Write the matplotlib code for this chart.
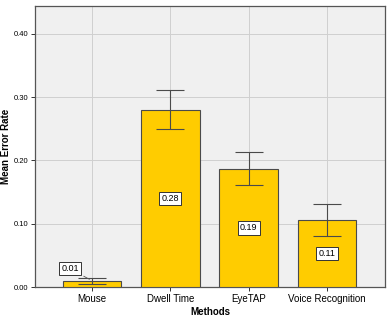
import numpy as np
import matplotlib.pyplot as plt

# ---------- DATA ----------
methods = ["Mouse", "Dwell Time", "EyeTAP", "Voice Recognition"]
mean_err = [0.01, 0.28, 0.187, 0.106]
err_low = [0.005, 0.249, 0.161, 0.081]
err_high = [0.015, 0.311, 0.213, 0.131]
bar_labels = ["0.01", "0.28", "0.19", "0.11"]
yticks = [0.0, 0.1, 0.2, 0.3, 0.4]
# --------------------------

plt.rcParams['font.family'] = ['Liberation Sans', 'DejaVu Sans']

fig = plt.figure(figsize=(3.9, 3.19), dpi=100)
ax = fig.add_axes([35 / 390, 1 - 287 / 319, 350 / 390, 281 / 319])
ax.set_facecolor("#f0f0f0")

x = np.arange(len(methods))
mean_err = np.array(mean_err)
yerr = np.array([mean_err - np.array(err_low), np.array(err_high) - mean_err])

ax.bar(x, mean_err, width=0.75, color="#ffcc00", edgecolor="#4a4a4a", linewidth=0.8, zorder=3)
ax.errorbar(x, mean_err, yerr=yerr, fmt="none", ecolor="#4a4a4a", elinewidth=0.8,
            capsize=10, capthick=0.8, zorder=4)

box = dict(boxstyle="square,pad=0.25", fc="white", ec="#333333", lw=0.7)
for i, (v, lab) in enumerate(zip(mean_err, bar_labels)):
    if i == 0:
        ax.annotate(lab, xy=(x[i], v), xytext=(x[i] - 0.28, 0.029),
                    ha="center", va="center", fontsize=6.5, bbox=box, zorder=5,
                    arrowprops=dict(arrowstyle="-", color="#555555", lw=0.6))
    else:
        ax.text(x[i], v / 2, lab, ha="center", va="center", fontsize=6.5, bbox=box, zorder=5)

ax.set_xlim(-0.726, 3.74)
ax.set_ylim(0, 0.444)
ax.set_xticks(x)
ax.set_xticklabels(methods, fontsize=7)
ax.set_yticks(yticks)
ax.set_yticklabels([f"{t:.2f}" for t in yticks], fontsize=5.5)
ax.tick_params(axis="both", length=3, width=0.7, color="#333333", pad=2)
ax.grid(True, color="#cfcfcf", linewidth=0.7, zorder=0)
ax.set_axisbelow(True)
for s in ax.spines.values():
    s.set_color("#555555")
    s.set_linewidth(0.9)

ax.set_xlabel("Methods", fontsize=7, fontweight="bold", labelpad=2)
ax.set_ylabel("Mean Error Rate", fontsize=7, fontweight="bold")
ax.yaxis.set_label_coords(-0.068, 0.5)

fig.savefig("out.png", dpi=100)
